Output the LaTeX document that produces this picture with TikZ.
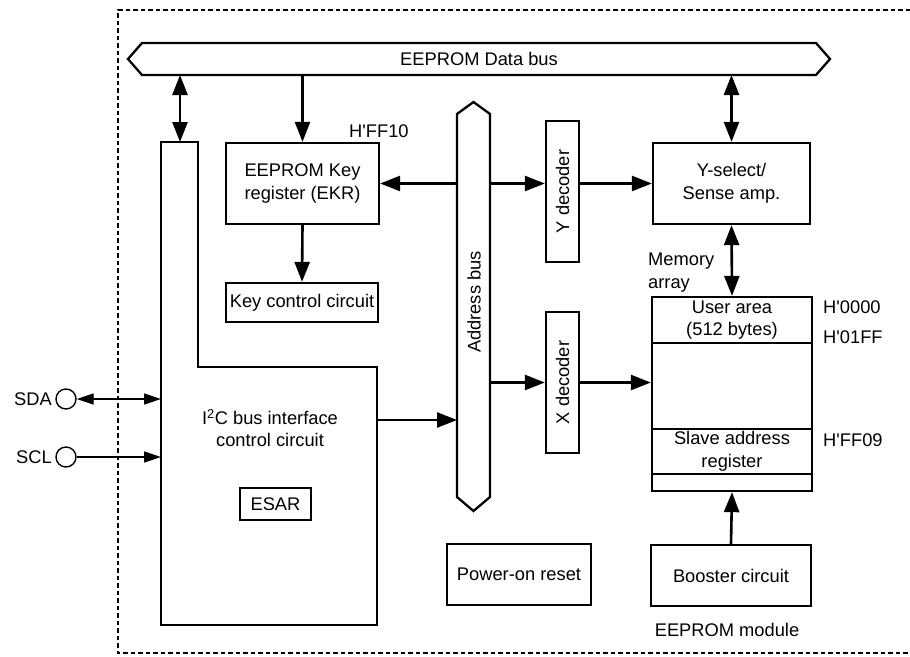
\documentclass[tikz,border=0pt]{standalone}
\usepackage{fontspec}
\setmainfont{Liberation Sans}
\usetikzlibrary{arrows.meta}
\tikzset{
  x=1pt, y=-1pt,
  txt/.style={font=\fontsize{18.3}{22.5}\selectfont, inner sep=0pt, align=center},
  blk/.style={txt, draw, line width=2.3pt, minimum width=#1},
  blk/.default=10pt,
  ghost/.style={inner sep=0pt, outer sep=0pt},
  busline/.style={line width=2.3pt, line join=miter},
  arr/.style={line width=2.6pt, -{Triangle[length=20pt,width=15pt]}},
  biarr/.style={line width=2.6pt, {Triangle[length=20pt,width=15pt]}-{Triangle[length=20pt,width=15pt]}},
  tarr/.style={line width=1.4pt, -{Triangle[length=17pt,width=11pt]}},
  tbiarr/.style={line width=1.4pt, {Triangle[length=17pt,width=11pt]}-{Triangle[length=17pt,width=11pt]}},
  pin/.style={circle, draw, line width=1.4pt, minimum size=20pt, inner sep=0pt},
  border/.style={line width=1.3pt, dash pattern=on 4.5pt off 3pt},
}
\begin{document}
\begin{tikzpicture}
\useasboundingbox (0,0) rectangle (910,656);
% module border
\draw[border] (910,10) -- (118,10) -- (118,653) -- (910,653);

% data bus
\node[ghost, minimum width=674pt, minimum height=32pt] (dbus) at (479,59) {};
\draw[busline] (dbus.north west) -- (dbus.north east) -- (830,59) -- (dbus.south east) -- (dbus.south west) -- (128,59) -- cycle;
\node[txt] (dbustxt) at (dbus.center) {EEPROM Data bus};

% address bus
\node[ghost, minimum width=33pt, minimum height=383pt] (abus) at (473.5,305.5) {};
\draw[busline] (abus.south west) -- (abus.north west) -- (473.5,102) -- (abus.north east) -- (abus.south east) -- (473.5,511) -- cycle;
\node[txt, rotate=90] (abustxt) at (474,302) {Address bus};

% I2C block
\node[ghost, minimum width=216pt, minimum height=258pt] (i2c) at (269,496) {};
\coordinate (stemtop) at (180,142);
\draw[busline] (i2c.south west) -- (i2c.west |- stemtop) -- (198,142) -- (198,367) -- (i2c.north east) -- (i2c.south east) -- cycle;
\node[txt] (i2ctxt) at (270,428) {I\textsuperscript{2}C bus interface\\control circuit};
\node[blk=71pt, minimum height=32pt] (esar) at (275.5,504) {ESAR};
\coordinate (i2cout) at (377,420);

% EKR and key control
\node[blk=153pt, minimum height=81pt] (ekr) at (302.5,183.5) {EEPROM Key\\register (EKR)};
\node[txt, anchor=west] (ff10) at (349,131) {H\textquotesingle FF10};
\node[blk=152pt, minimum height=39pt] (key) at (302,302.5) {Key control circuit};

% decoders
\node[blk=33pt, minimum height=141pt] (ydec) at (562.5,191.5) {};
\node[txt, rotate=90] (ydectxt) at (ydec.center) {Y decoder};
\node[blk=33pt, minimum height=141pt] (xdec) at (562.5,382.5) {};
\node[txt, rotate=90] (xdectxt) at (xdec.center) {X decoder};

% Y-select
\node[blk=157pt, minimum height=81pt] (ysel) at (731.5,183.5) {Y-select/\\Sense amp.};

% memory array
\node[txt, anchor=west, align=left] (memlbl) at (648,272.5) {Memory\\array};
\node[blk=160pt, minimum height=46pt] (user) at (732,320) {User area\\(512 bytes)};
\node[blk=160pt, minimum height=86pt] (mid) at (732,386) {};
\node[blk=160pt, minimum height=45pt] (slave) at (732,451.5) {Slave address\\register};
\node[blk=160pt, minimum height=17pt] (bot) at (732,482.5) {};
\node[txt, anchor=west] (h0000) at (823,307) {H\textquotesingle 0000};
\node[txt, anchor=west] (h01ff) at (823,337) {H\textquotesingle 01FF};
\node[txt, anchor=west] (hff09) at (823,440) {H\textquotesingle FF09};

% bottom blocks
\node[blk=144pt, minimum height=61pt] (por) at (519,574.5) {Power-on reset};
\node[blk=160pt, minimum height=61pt] (boost) at (731,575.5) {Booster circuit};
\node[txt] (modlbl) at (727,630) {EEPROM module};

% pins
\node[pin] (sdapin) at (66,399) {};
\node[txt, anchor=east] (sdatxt) at (52,399) {SDA};
\node[pin] (sclpin) at (66,457) {};
\node[txt, anchor=east] (scltxt) at (52,457) {SCL};

% connectors
\draw[biarr] (stemtop |- dbus.south) -- (stemtop);
\draw[arr] (ekr.north |- dbus.south) -- (ekr.north);
\draw[biarr] (ysel.north |- dbus.south) -- (ysel.north);
\draw[arr] (ekr.south) -- (key.north);
\draw[arr] (ekr.east -| abus.west) -- (ekr.east);
\draw[arr] (abus.east |- ekr.east) -- (ydec.west |- ekr.east);
\draw[arr] (ydec.east |- ysel.west) -- (ysel.west);
\draw[biarr] (ysel.south) -- (user.north);
\draw[arr] (abus.east |- xdec.west) -- (xdec.west);
\draw[arr] (xdec.east) -- (xdec.east -| mid.west);
\draw[arr] (i2cout) -- (i2cout -| abus.west);
\draw[tbiarr] (sdapin.east) -- (sdapin.east -| i2c.west);
\draw[tarr] (sclpin.east) -- (sclpin.east -| i2c.west);
\draw[arr] (boost.north) -- (bot.south);
\end{tikzpicture}
\end{document}
